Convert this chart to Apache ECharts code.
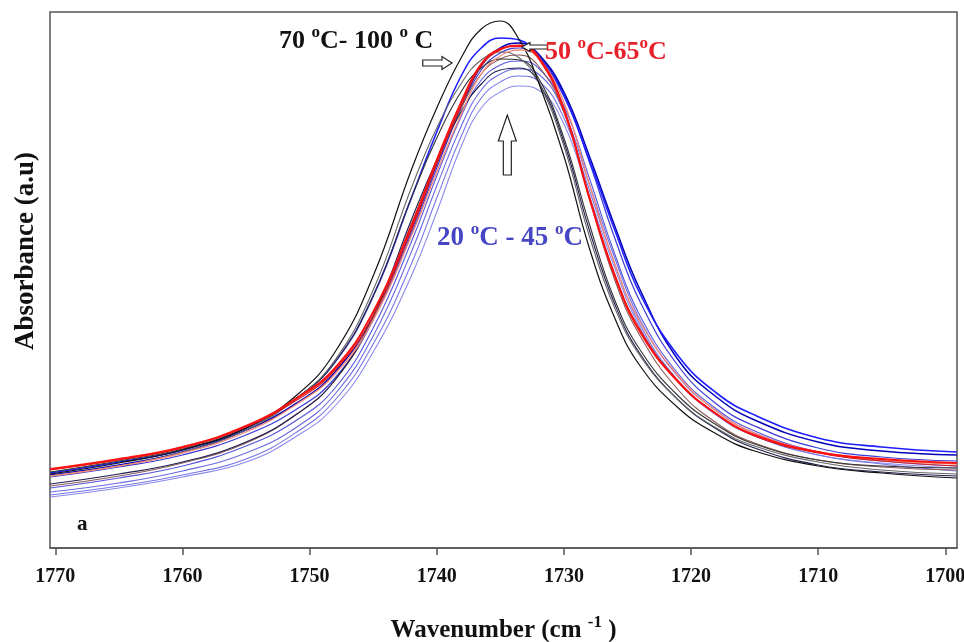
<!DOCTYPE html>
<html><head><meta charset="utf-8">
<script src="https://cdn.jsdelivr.net/npm/echarts@6/dist/echarts.min.js"></script>
<style>html,body{margin:0;padding:0;background:#fff}#c{width:964px;height:642px}</style>
</head><body><div id="c"></div>
<script>
// Wavenumber sample positions (cm-1)
const wavenumbers = [1770.4,1765,1760,1755,1751,1748,1745,1742,1740,1738,1736.5,1735,1733.5,1732,1730,1728,1726,1724,1721,1718,1715,1710,1705,1699.1];
const xTicks = [1700,1710,1720,1730,1740,1750,1760,1770];

// Absorbance (arbitrary units) for each spectrum
// 20 °C - 45 °C (blue)
const blue1 = [51,60,71,86,112,142,196,272,336,404,440,456,462,458,424,352,280,220,166,133,112,93,85,80];
const blue2 = [53,62,73,89,116,148,204,284,350,414,450,466,472,467,430,358,284,223,167,133,112,93,84,77];
const blue3 = [56,65,77,95,121,154,212,296,362,424,458,474,479,474,436,364,290,228,171,137,115,96,87,82];
const blue4 = [60,70,82,102,128,160,220,306,372,434,468,483,487,480,442,370,294,232,174,139,117,96,88,85];
const blue5 = [71,81,93,113,139,170,228,314,380,442,478,495,500,492,454,386,310,246,182,144,122,100,91,87];
const blue6 = [73,83,96,118,145,176,232,318,384,444,482,500,505,494,456,392,322,258,188,151,128,106,97,93];
const blue7 = [75,86,98,120,150,186,252,350,416,474,500,510,508,492,452,388,318,254,192,155,133,110,101,96];
// 50 °C - 65 °C (red)
const red1 = [79,89,101,122,150,180,236,322,388,448,484,499,502,490,438,350,272,216,166,134,113,96,89,85];
const red2 = [72,82,95,116,144,174,228,312,376,436,474,492,498,490,446,364,284,226,172,137,115,96,88,84];
const red3 = [78,88,100,121,148,178,232,318,384,444,482,498,503,492,440,352,274,218,167,134,112,95,87,82];
// 70 °C - 100 °C (black / grey)
const black1 = [74,85,98,120,153,196,272,378,440,492,519,527,508,466,392,300,230,182,140,114,97,82,75,70];
const black2 = [72,82,96,118,150,188,258,360,420,466,488,496,490,466,402,312,240,192,148,120,102,86,78,74];
const black3 = [76,87,99,120,150,186,252,350,410,458,480,489,488,470,410,324,248,198,152,123,104,88,82,80];
const black4 = [64,74,86,106,134,168,232,328,388,438,464,478,480,466,406,318,244,194,148,119,100,83,76,72];
const black5 = [62,72,85,105,134,168,230,324,386,442,474,489,493,482,436,350,268,212,158,125,105,88,81,78];

// Annotation arrows in data coordinates: [tail, tip]
const arrowHot  = [[1741.1,485],[1738.8,485]];
const arrowMid  = [[1731.3,501],[1733.3,501]];
const arrowCold = [[1734.45,373],[1734.45,433]];

const F = '"Liberation Serif","Times New Roman",serif';
const spectra = [
  {name:'20 °C', d:blue1, c:'#8a8aec', w:1.1},
  {name:'25 °C', d:blue2, c:'#7777e6', w:1.1},
  {name:'30 °C', d:blue3, c:'#6a6ae2', w:1.1},
  {name:'35 °C', d:blue4, c:'#5656dc', w:1.1},
  {name:'40 °C', d:blue5, c:'#3a3ad6', w:1.2},
  {name:'45 °C', d:blue6, c:'#0000b8', w:1.5},
  {name:'45 °C b', d:blue7, c:'#1e1eff', w:1.6},
  {name:'70 °C', d:black5, c:'#8a5a5a', w:1.1},
  {name:'75 °C', d:black4, c:'#1f1f4f', w:1.1},
  {name:'80 °C', d:black3, c:'#333333', w:1.1},
  {name:'90 °C', d:black2, c:'#666666', w:1.1},
  {name:'100 °C', d:black1, c:'#111111', w:1.2},
  {name:'50 °C', d:red2, c:'#f48a7a', w:1.3},
  {name:'60 °C', d:red3, c:'#d42020', w:1.2},
  {name:'65 °C', d:red1, c:'#ff1010', w:2}
];

const chart = echarts.init(document.getElementById('c'), null, {renderer:'canvas'});
const supRich = (col, big, small) => ({
  m:{fontSize:big, fontWeight:'bold', fontFamily:F, color:col, fill:col, lineHeight:big+4, verticalAlign:'bottom'},
  s:{fontSize:small, fontWeight:'bold', fontFamily:F, color:col, fill:col, lineHeight:small, verticalAlign:'top'}
});

chart.setOption({
  animation:false,
  backgroundColor:'#fff',
  grid:{left:50, right:7, top:12, bottom:94, show:true, borderColor:'#555', borderWidth:1.5,
        containLabel:false, outerBoundsMode:'none'},
  xAxis:{
    type:'value', inverse:true, min:1699.08, max:1770.42,
    axisLine:{show:true, onZero:false, lineStyle:{color:'#555', width:1.5}},
    axisTick:{show:true, length:7, customValues:xTicks, lineStyle:{color:'#555', width:1.5}},
    axisLabel:{customValues:xTicks, formatter:v=>String(v), hideOverlap:false, color:'#111', fontSize:20, fontWeight:'bold', fontFamily:F, margin:19},
    splitLine:{show:false},
    name:'{m|Wavenumber (cm }{s|-1}{m| )}',
    nameLocation:'middle', nameGap:66,
    nameTextStyle:{rich:supRich('#111',25,17)}
  },
  yAxis:{
    type:'value', min:0, max:536,
    axisLine:{show:false}, axisTick:{show:false}, axisLabel:{show:false}, splitLine:{show:false},
    name:'Absorbance (a.u)', nameLocation:'middle', nameRotate:90, nameGap:10,
    nameTextStyle:{fontSize:27, fontWeight:'bold', fontFamily:F, color:'#111', padding:[0,0,0,58]}
  },
  series: spectra.map(s => ({
    type:'line', name:s.name, showSymbol:false, smooth:0.45, silent:true,
    lineStyle:{color:s.c, width:s.w},
    data: wavenumbers.map((x,i)=>[x, s.d[i]])
  }))
});

function px(pt){ return chart.convertToPixel({gridIndex:0}, pt); }
function hArrow(a, sh, hh, hl){
  const t = px(a[0]), p = px(a[1]); const y = p[1];
  const d = Math.sign(p[0]-t[0]);
  const b = p[0]-d*hl;
  return [[t[0],y-sh/2],[b,y-sh/2],[b,y-hh/2],[p[0],y],[b,y+hh/2],[b,y+sh/2],[t[0],y+sh/2]];
}
function vArrow(a, sw, hw, hl){
  const t = px(a[0]), p = px(a[1]); const x = p[0];
  const d = Math.sign(p[1]-t[1]);
  const b = p[1]-d*hl;
  return [[x-sw/2,t[1]],[x-sw/2,b],[x-hw/2,b],[x,p[1]],[x+hw/2,b],[x+sw/2,b],[x+sw/2,t[1]]];
}
const arrowStyle = {fill:'#fff', stroke:'#222', lineWidth:1.2};
chart.setOption({
  graphic:[
    {type:'polygon', shape:{points:hArrow(arrowHot,6,13,10)}, style:arrowStyle, z:100},
    {type:'polygon', shape:{points:hArrow(arrowMid,4,9,8)}, style:arrowStyle, z:100},
    {type:'polygon', shape:{points:vArrow(arrowCold,8,18,26)}, style:arrowStyle, z:100},
    {type:'text', left:279, top:24, z:100, style:{text:'{m|70 }{s|o}{m|C- 100 }{s|o}{m| C}', rich:supRich('#111',26,17)}},
    {type:'text', left:545, top:35, z:100, style:{text:'{m|50 }{s|o}{m|C-65}{s|o}{m|C}', rich:supRich('#e8202a',26,17)}},
    {type:'text', left:437, top:221, z:100, style:{text:'{m|20 }{s|o}{m|C - 45 }{s|o}{m|C}', rich:supRich('#4646c4',27,17)}},
    {type:'text', left:77, top:514, z:100, style:{text:'a', fontSize:21, fontWeight:'bold', fontFamily:F, fill:'#111'}}
  ]
});
</script></body></html>
